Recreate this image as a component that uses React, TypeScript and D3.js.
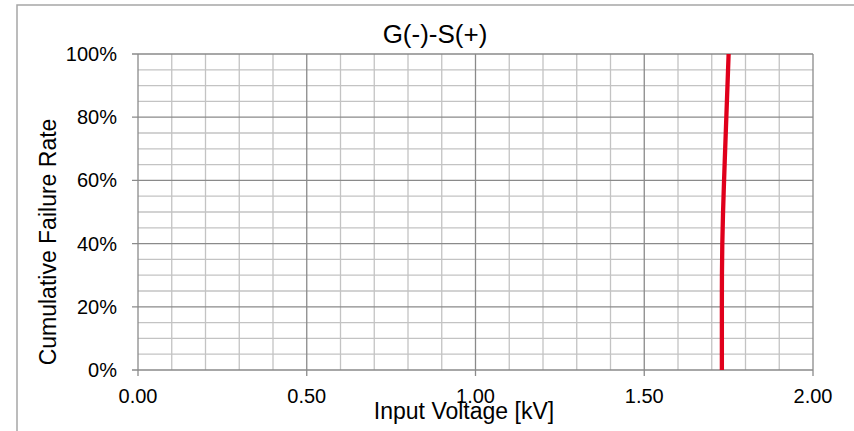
import React from "react";
import * as d3 from "d3";

const chartTitle = "G(-)-S(+)";
const xAxisTitle = "Input Voltage [kV]";
const yAxisTitle = "Cumulative Failure Rate";

const xMajorTicks = [0, 0.5, 1.0, 1.5, 2.0];
const yMajorTicks = [0, 0.2, 0.4, 0.6, 0.8, 1.0];

const failureRate = [0, 0.1, 0.2, 0.3, 0.4, 0.5, 0.6, 0.7, 0.8, 0.9, 1.0];
const voltageKV = [1.73, 1.73, 1.73, 1.7302, 1.7313, 1.7335, 1.7365, 1.7398, 1.7432, 1.7466, 1.75];

const W = 854;
const H = 431;
const FONT = "'Liberation Sans', Arial, sans-serif";

export default function App() {
  const left = 138, right = 813, top = 54, bottom = 370;
  const x = d3.scaleLinear().domain([0, 2]).range([left, right]);
  const y = d3.scaleLinear().domain([0, 1]).range([bottom, top]);

  const xMinor = d3.range(0, 21).map((i) => i / 10);
  const yMinor = d3.range(0, 21).map((i) => i / 20);
  const isMajorX = (v: number) => Math.abs(v * 2 - Math.round(v * 2)) < 1e-6;
  const isMajorY = (v: number) => Math.abs(v * 5 - Math.round(v * 5)) < 1e-6;

  const pts = failureRate.map((r, i) => [voltageKV[i], r] as [number, number]);
  const line = d3
    .line<[number, number]>()
    .x((d) => x(d[0]))
    .y((d) => y(d[1]))
    .curve(d3.curveMonotoneY);

  const minorColor = "#c3c3c3";
  const majorColor = "#8a8a8a";

  return (
    <svg
      width={W}
      height={H}
      style={{ position: "absolute", left: 0, top: 0, background: "#fff" }}
      fontFamily={FONT}
    >
      <rect x={0} y={0} width={W} height={H} fill="#fff" />
      <rect x={17} y={5} width={900} height={500} fill="#fff" stroke="#a6a6a6" strokeWidth={1.5} />

      {/* minor grid */}
      {xMinor.filter((v) => !isMajorX(v)).map((v) => (
        <line key={"xm" + v} x1={x(v)} x2={x(v)} y1={top} y2={bottom} stroke={minorColor} strokeWidth={1.3} />
      ))}
      {yMinor.filter((v) => !isMajorY(v)).map((v) => (
        <line key={"ym" + v} x1={left} x2={right} y1={y(v)} y2={y(v)} stroke={minorColor} strokeWidth={1.3} />
      ))}
      {/* major grid */}
      {xMajorTicks.map((v) => (
        <line key={"xM" + v} x1={x(v)} x2={x(v)} y1={top} y2={bottom + 6} stroke={majorColor} strokeWidth={1.3} />
      ))}
      {yMajorTicks.map((v) => (
        <line key={"yM" + v} x1={left - 6} x2={right} y1={y(v)} y2={y(v)} stroke={majorColor} strokeWidth={1.3} />
      ))}

      {/* data line */}
      <path d={line(pts) || ""} fill="none" stroke="#e0001b" strokeWidth={4.3} />

      {/* tick labels */}
      {xMajorTicks.map((v) => (
        <text key={"xl" + v} x={x(v)} y={403} textAnchor="middle" fontSize={20} fill="#000">
          {d3.format(".2f")(v)}
        </text>
      ))}
      {yMajorTicks.map((v) => (
        <text key={"yl" + v} x={117} y={y(v) + 7} textAnchor="end" fontSize={20} fill="#000">
          {d3.format(".0%")(v)}
        </text>
      ))}

      <text x={435} y={43} textAnchor="middle" fontSize={26} fill="#000">
        {chartTitle}
      </text>
      <text x={464} y={419} textAnchor="middle" fontSize={23} fill="#000">
        {xAxisTitle}
      </text>
      <text
        transform={`translate(56,242) rotate(-90)`}
        textAnchor="middle"
        fontSize={23}
        fill="#000"
      >
        {yAxisTitle}
      </text>
    </svg>
  );
}
